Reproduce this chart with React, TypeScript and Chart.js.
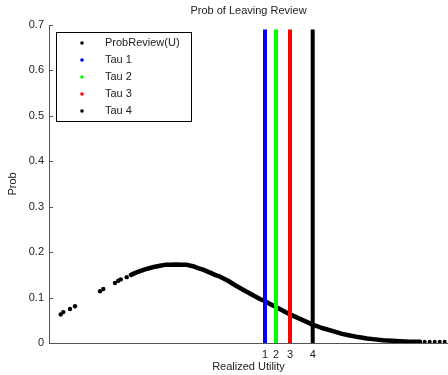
import React, { useEffect, useRef } from "react";
import { Chart, registerables } from "chart.js";

Chart.register(...registerables);

const TITLE = "Prob of Leaving Review";
const X_LABEL = "Realized Utility";
const Y_LABEL = "Prob";
const SERIES_LABEL = "ProbReview(U)";

// Sparse left-hand samples of ProbReview(U)
const sparseU = [0.117, 0.143, 0.21, 0.26, 0.51, 0.543, 0.66, 0.693, 0.717, 0.777];
const sparseP = [0.063, 0.068, 0.075, 0.081, 0.114, 0.119, 0.132, 0.137, 0.14, 0.145];

// Dense band of ProbReview(U)
const denseU = [0.82, 0.87, 0.91, 0.96, 1.01, 1.06, 1.11, 1.16, 1.21, 1.27, 1.33, 1.38, 1.44, 1.49, 1.54, 1.61, 1.66, 1.71, 1.79, 1.87, 1.95, 2.04, 2.11, 2.16, 2.21, 2.27, 2.34, 2.41, 2.51, 2.63, 2.73, 2.84, 2.93, 3.01, 3.09, 3.18, 3.26, 3.34, 3.43, 3.51, 3.61, 3.71];
const denseP = [0.15, 0.155, 0.158, 0.162, 0.165, 0.168, 0.17, 0.172, 0.1725, 0.173, 0.1725, 0.172, 0.169, 0.165, 0.1615, 0.155, 0.15, 0.146, 0.137, 0.126, 0.116, 0.105, 0.097, 0.092, 0.086, 0.079, 0.071, 0.063, 0.053, 0.041, 0.033, 0.026, 0.02, 0.0165, 0.013, 0.01, 0.008, 0.006, 0.005, 0.004, 0.003, 0.0025];

// Sparse right-hand tail
const tailU = [3.757, 3.807, 3.857, 3.907, 3.957];
const tailP = [0.003, 0.003, 0.003, 0.003, 0.003];

const tauLabels = ["Tau 1", "Tau 2", "Tau 3", "Tau 4"];
const tauValues = [2.16, 2.27, 2.41, 2.637];
const tauColors = ["#0000ff", "#00ff00", "#ff0000", "#000000"];
const tauTop = 0.69;
const tauTickLabels = ["1", "2", "3", "4"];

const yTicks = [0, 0.1, 0.2, 0.3, 0.4, 0.5, 0.6, 0.7];
const X_MIN = 0;
const X_MAX = 3.99;

const FONT = "'Liberation Sans', Arial, Helvetica, sans-serif";
const AXIS_COLOR = "#555555";
const TEXT_COLOR = "#222222";

const zip = (xs: number[], ys: number[]) => xs.map((x, i) => ({ x, y: ys[i] }));

export default function App() {
  const canvasRef = useRef<HTMLCanvasElement | null>(null);

  useEffect(() => {
    const canvas = canvasRef.current;
    if (!canvas) return;

    const legendItems = [
      { label: SERIES_LABEL, color: "#000000" },
      ...tauLabels.map((l, i) => ({ label: l, color: tauColors[i] })),
    ];

    const decorPlugin = {
      id: "decor",
      afterDraw(chart: any) {
        const ctx = chart.ctx as CanvasRenderingContext2D;
        const area = chart.chartArea;
        const ys = chart.scales.y;
        ctx.save();
        // inward tick marks
        ctx.strokeStyle = AXIS_COLOR;
        ctx.lineWidth = 1;
        ctx.beginPath();
        yTicks.forEach((v) => {
          const py = Math.round(ys.getPixelForValue(v)) + 0.5;
          ctx.moveTo(area.left, py);
          ctx.lineTo(area.left + 4, py);
        });
        ctx.stroke();

        // texts
        ctx.fillStyle = TEXT_COLOR;
        ctx.font = `11px ${FONT}`;
        ctx.textAlign = "center";
        ctx.textBaseline = "middle";
        const cx = (area.left + area.right) / 2;
        ctx.fillText(TITLE, cx, 11);
        ctx.fillText(X_LABEL, cx, 367);
        ctx.save();
        ctx.translate(13, (area.top + area.bottom) / 2);
        ctx.rotate(-Math.PI / 2);
        ctx.fillText(Y_LABEL, 0, 0);
        ctx.restore();

        // legend
        const bx = area.left + 7.5;
        const by = area.top + 7.5;
        const bw = 135;
        const bh = 89;
        ctx.fillStyle = "#ffffff";
        ctx.fillRect(bx, by, bw, bh);
        ctx.strokeStyle = "#000000";
        ctx.lineWidth = 1;
        ctx.strokeRect(bx, by, bw, bh);
        ctx.textAlign = "left";
        legendItems.forEach((it, i) => {
          const yy = by + 10.5 + i * 17;
          ctx.fillStyle = it.color;
          ctx.beginPath();
          ctx.arc(bx + 25.5, yy, 1.8, 0, Math.PI * 2);
          ctx.fill();
          ctx.fillStyle = TEXT_COLOR;
          ctx.fillText(it.label, bx + 48.5, yy);
        });
        ctx.restore();
      },
    };

    const datasets: any[] = [
      ...tauValues.map((t, i) => ({
        type: "line",
        label: tauLabels[i],
        data: [
          { x: t, y: 0 },
          { x: t, y: tauTop },
        ],
        borderColor: tauColors[i],
        backgroundColor: tauColors[i],
        borderWidth: 4,
        pointRadius: 0,
        borderCapStyle: "butt",
        order: 0,
      })),
      {
        type: "scatter",
        label: SERIES_LABEL,
        data: zip(denseU, denseP),
        showLine: true,
        borderColor: "#000000",
        borderWidth: 4.5,
        borderCapStyle: "round",
        borderJoinStyle: "round",
        pointRadius: 0,
        order: 1,
      },
      {
        type: "scatter",
        label: SERIES_LABEL + " sparse",
        data: zip(sparseU, sparseP),
        backgroundColor: "#000000",
        borderWidth: 0,
        pointRadius: 2.2,
        order: 1,
      },
      {
        type: "scatter",
        label: SERIES_LABEL + " tail",
        data: zip(tailU, tailP),
        backgroundColor: "#000000",
        borderWidth: 0,
        pointRadius: 2,
        order: 1,
      },
    ];

    const chart = new Chart(canvas, {
      type: "scatter",
      data: { datasets },
      options: {
        animation: false,
        responsive: false,
        maintainAspectRatio: false,
        layout: { autoPadding: false, padding: { top: 25, left: 0, right: 0, bottom: 0 } },
        plugins: {
          legend: { display: false },
          title: { display: false },
          tooltip: { enabled: false },
        },
        scales: {
          x: {
            type: "linear",
            min: X_MIN,
            max: X_MAX,
            grid: { display: false, drawTicks: false },
            border: { display: true, color: AXIS_COLOR, width: 1 },
            afterBuildTicks: (scale: any) => {
              scale.ticks = tauValues.map((v) => ({ value: v }));
            },
            afterFit: (scale: any) => {
              scale.height = 32;
              scale.paddingLeft = 0;
              scale.paddingRight = 0;
            },
            ticks: {
              autoSkip: false,
              maxRotation: 0,
              minRotation: 0,
              padding: 5,
              color: TEXT_COLOR,
              font: { family: FONT, size: 11 },
              callback: (_v: any, i: number) => tauTickLabels[i],
            },
          },
          y: {
            type: "linear",
            min: 0,
            max: 0.7,
            grid: { display: false, drawTicks: false },
            border: { display: true, color: AXIS_COLOR, width: 1 },
            afterBuildTicks: (scale: any) => {
              scale.ticks = yTicks.map((v) => ({ value: v }));
            },
            afterFit: (scale: any) => {
              scale.width = 49;
            },
            ticks: {
              padding: 5,
              color: TEXT_COLOR,
              font: { family: FONT, size: 11 },
              callback: (v: any) => (Number(v) === 0 ? "0" : Number(v).toFixed(1)),
            },
          },
        },
      },
      plugins: [decorPlugin],
    } as any);

    return () => {
      chart.destroy();
    };
  }, []);

  return (
    <div style={{ position: "fixed", left: 0, top: 0, width: 448, height: 375, background: "#ffffff" }}>
      <canvas ref={canvasRef} width={448} height={375} style={{ width: 448, height: 375, display: "block" }} />
    </div>
  );
}
